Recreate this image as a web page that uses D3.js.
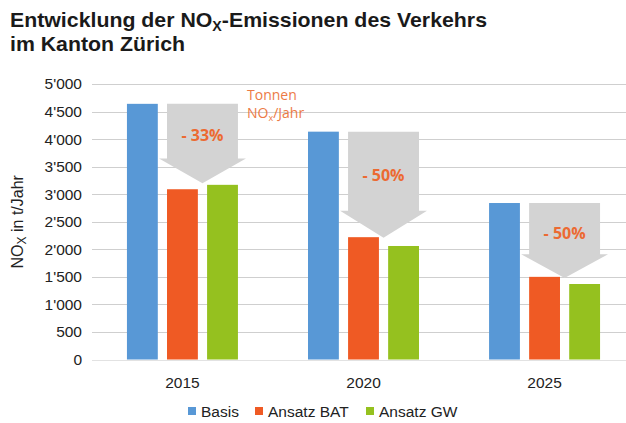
<!DOCTYPE html>
<html>
<head>
<meta charset="utf-8">
<script src="https://cdn.jsdelivr.net/npm/d3@7"></script>
<style>
  body { margin: 0; background: #fff; }
  svg { display: block; }
</style>
</head>
<body>
<div id="chart"></div>
<script>
// data
const years = ["2015", "2020", "2025"];
const seriesNames = ["Basis", "Ansatz BAT", "Ansatz GW"];
const basis = [4640, 4135, 2840];
const ansatzBat = [3090, 2220, 1500];
const ansatzGw = [3170, 2060, 1370];
const yTicks = [0, 500, 1000, 1500, 2000, 2500, 3000, 3500, 4000, 4500, 5000];
// grey reduction arrows: start (top), where the head begins, tip
const arrowHeadStart = [3650, 2700, 1910];
const arrowTip = [3200, 2210, 1480];
const arrowLabels = ["- 33%", "- 50%", "- 50%"];

const colors = ["#5898d6", "#ef5a24", "#95c11f"];
const width = 626, height = 423;
const margin = { top: 84, right: 0, bottom: 63.5, left: 92 };

const svg = d3.select("#chart").append("svg")
  .attr("width", width)
  .attr("height", height);

const fontMain = "'Liberation Sans', Arial, sans-serif";

// title (condensed look via textLength)
const title = svg.append("text")
  .attr("x", 10)
  .attr("y", 27)
  .attr("textLength", 477)
  .attr("lengthAdjust", "spacingAndGlyphs")
  .style("font-family", fontMain)
  .style("font-weight", "bold")
  .style("font-size", "21px")
  .attr("fill", "#1a1a1a");
title.append("tspan").text("Entwicklung der NO");
title.append("tspan").text("X").attr("dy", 4).style("font-size", "14px");
title.append("tspan").text("-Emissionen des Verkehrs").attr("dy", -4);
svg.append("text")
  .attr("x", 10)
  .attr("y", 51)
  .attr("textLength", 175)
  .attr("lengthAdjust", "spacingAndGlyphs")
  .style("font-family", fontMain)
  .style("font-weight", "bold")
  .style("font-size", "21px")
  .attr("fill", "#1a1a1a")
  .text("im Kanton Zürich");

const x0 = d3.scaleBand()
  .domain(years)
  .range([margin.left, 635])
  .paddingInner(0.387)
  .paddingOuter(0.193);

const x1 = d3.scaleBand()
  .domain(seriesNames)
  .range([0, x0.bandwidth()])
  .paddingInner(0.23);

const y = d3.scaleLinear()
  .domain([0, 5000])
  .range([height - margin.bottom, margin.top]);

const chLocale = d3.formatLocale({ decimal: ".", thousands: "'", grouping: [3], currency: ["", ""] });
const fmt = chLocale.format(",");

// gridlines
svg.append("g")
  .selectAll("line")
  .data(yTicks)
  .join("line")
  .attr("x1", margin.left)
  .attr("x2", width)
  .attr("y1", (d) => Math.round(y(d)) + 0.5)
  .attr("y2", (d) => Math.round(y(d)) + 0.5)
  .attr("stroke", (d) => (d === 0 ? "#e2e2e2" : "#cfcfcf"))
  .attr("stroke-width", 1.2);

// y axis labels
const yAxis = svg.append("g")
  .attr("transform", `translate(${margin.left},0)`)
  .call(d3.axisLeft(y).tickValues(yTicks).tickFormat(fmt).tickSize(0).tickPadding(10));
yAxis.select(".domain").remove();
yAxis.selectAll("text")
  .style("font-family", fontMain)
  .style("font-size", "15.5px")
  .attr("fill", "#222");

// y axis title
const yTitle = svg.append("text")
  .attr("transform", `translate(23, ${y(2500)}) rotate(-90)`)
  .attr("text-anchor", "middle")
  .style("font-family", fontMain)
  .style("font-size", "16px")
  .attr("fill", "#222");
yTitle.append("tspan").text("NO");
yTitle.append("tspan").text("X").attr("dy", 3).style("font-size", "12px");
yTitle.append("tspan").text(" in t/Jahr").attr("dy", -3);

// bars
const table = years.map((yr, i) => ({
  year: yr,
  values: [basis[i], ansatzBat[i], ansatzGw[i]]
}));

const groups = svg.append("g")
  .selectAll("g")
  .data(table)
  .join("g")
  .attr("transform", (d) => `translate(${x0(d.year)},0)`);

groups.selectAll("rect")
  .data((d) => d.values.map((v, j) => ({ key: seriesNames[j], value: v, j })))
  .join("rect")
  .attr("x", (d) => x1(d.key))
  .attr("y", (d) => y(d.value))
  .attr("width", x1.bandwidth())
  .attr("height", (d) => y(0) - y(d.value))
  .attr("fill", (d) => colors[d.j]);

// arrows
const headOverhang = 8;
const arrowG = svg.append("g");
table.forEach((d, i) => {
  const gx = x0(d.year);
  const left = gx + x1("Ansatz BAT");
  const right = gx + x1("Ansatz GW") + x1.bandwidth();
  const mid = (left + right) / 2;
  const top = y(basis[i]);
  const hs = y(arrowHeadStart[i]);
  const tip = y(arrowTip[i]);
  const path = d3.path();
  path.moveTo(left, top);
  path.lineTo(right, top);
  path.lineTo(right, hs);
  path.lineTo(right + headOverhang, hs);
  path.lineTo(mid, tip);
  path.lineTo(left - headOverhang, hs);
  path.lineTo(left, hs);
  path.closePath();
  arrowG.append("path")
    .attr("d", path.toString())
    .attr("fill", "#d3d3d3");
  arrowG.append("text")
    .attr("x", mid)
    .attr("y", (top + hs) / 2 + 10)
    .attr("text-anchor", "middle")
    .style("font-family", "'Open Sans', sans-serif")
    .style("font-weight", "bold")
    .style("font-size", "16px")
    .attr("fill", "#ec6a32")
    .text(arrowLabels[i]);
});

// "Tonnen NOx/Jahr" note
const note = svg.append("g")
  .style("font-family", "'Open Sans', sans-serif")
  .style("font-size", "14px")
  .attr("fill", "#ec7a45");
note.append("text").attr("x", 247).attr("y", 100).text("Tonnen");
const note2 = note.append("text").attr("x", 247).attr("y", 118);
note2.append("tspan").text("NO");
note2.append("tspan").text("x").attr("dy", 3).style("font-size", "9px");
note2.append("tspan").text("/Jahr").attr("dy", -3);

// x labels
const xAxis = svg.append("g")
  .attr("transform", `translate(0,${y(0)})`)
  .call(d3.axisBottom(x0).tickSize(0).tickPadding(17));
xAxis.select(".domain").remove();
xAxis.selectAll("text")
  .style("font-family", fontMain)
  .style("font-size", "15.5px")
  .attr("fill", "#222");

// legend
const legendX = [188, 255, 366];
const legend = svg.append("g")
  .selectAll("g")
  .data(seriesNames)
  .join("g")
  .attr("transform", (d, i) => `translate(${legendX[i]},407)`);
legend.append("rect")
  .attr("width", 8)
  .attr("height", 8)
  .attr("fill", (d, i) => colors[i]);
legend.append("text")
  .attr("x", 13)
  .attr("y", 9.5)
  .style("font-family", fontMain)
  .style("font-size", "15.5px")
  .attr("fill", "#222")
  .text((d) => d);
</script>
</body>
</html>
